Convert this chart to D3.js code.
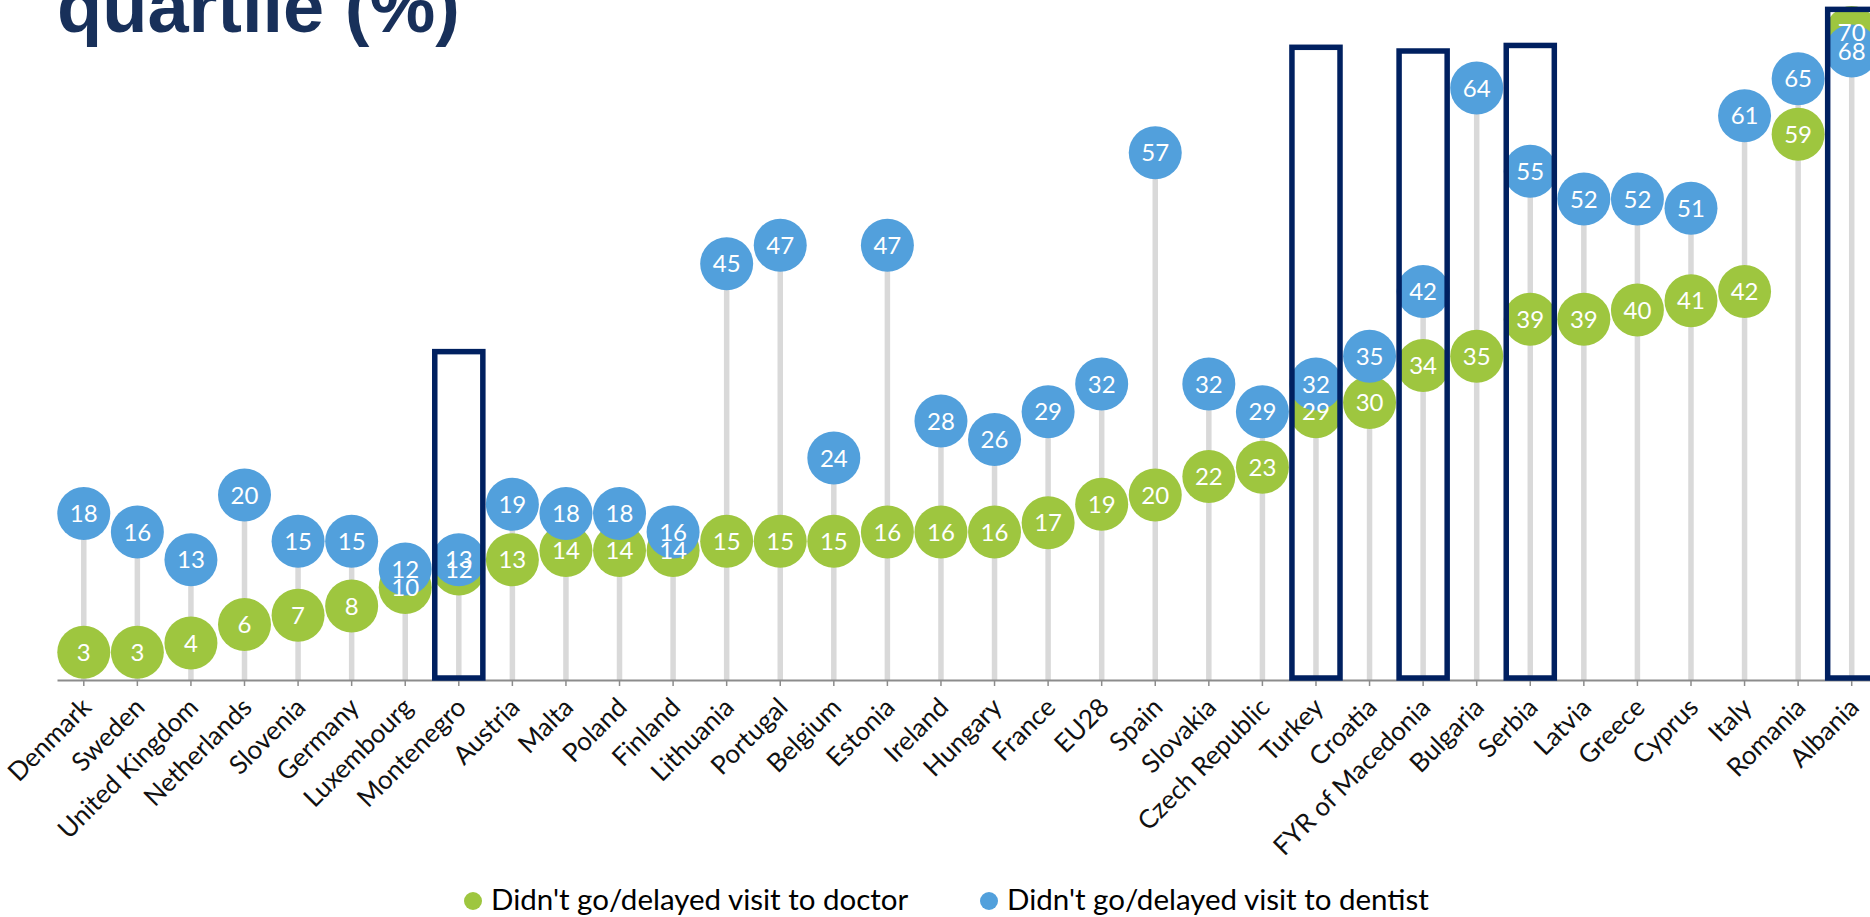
<!DOCTYPE html>
<html>
<head>
<meta charset="utf-8">
<script src="https://cdn.jsdelivr.net/npm/d3@7"></script>
<style>
  body { margin: 0; background: #fff; }
  svg { display: block; }
</style>
</head>
<body>
<svg id="chart" width="1870" height="917"></svg>
<script>
// ===== data =====
const countries = [
  "Denmark", "Sweden", "United Kingdom", "Netherlands", "Slovenia", "Germany",
  "Luxembourg", "Montenegro", "Austria", "Malta", "Poland", "Finland",
  "Lithuania", "Portugal", "Belgium", "Estonia", "Ireland", "Hungary",
  "France", "EU28", "Spain", "Slovakia", "Czech Republic", "Turkey",
  "Croatia", "FYR of Macedonia", "Bulgaria", "Serbia", "Latvia", "Greece",
  "Cyprus", "Italy", "Romania", "Albania"
];
const doctor = [
  3, 3, 4, 6, 7, 8, 10, 12, 13, 14, 14, 14, 15, 15, 15, 16, 16, 16,
  17, 19, 20, 22, 23, 29, 30, 34, 35, 39, 39, 40, 41, 42, 59, 70
];
const dentist = [
  18, 16, 13, 20, 15, 15, 12, 13, 19, 18, 18, 16, 45, 47, 24, 47, 28, 26,
  29, 32, 57, 32, 29, 32, 35, 42, 64, 55, 52, 52, 51, 61, 65, 68
];
const seriesNames = ["Didn't go/delayed visit to doctor", "Didn't go/delayed visit to dentist"];
// highlighted countries and how high their frame reaches (in %)
const highlighted = ["Montenegro", "Turkey", "FYR of Macedonia", "Serbia", "Albania"];
const boxTops = [35.5, 68.4, 68, 68.6, 72.5];
const titleText = "quartile (%)";

const green = "#9ec63f", blue = "#52a0dc", navy = "#002060";
const font = "Lato, 'Open Sans', sans-serif";

const svg = d3.select("#chart");
svg.append("rect").attr("width", 1870).attr("height", 917).attr("fill", "#fff");

// title (cut at the top like in the slide)
svg.append("text")
  .attr("x", 57).attr("y", 32)
  .style("font-family", "'Liberation Sans', Arial, sans-serif")
  .style("font-weight", "bold")
  .style("font-size", "74px")
  .attr("fill", "#18305a")
  .text(titleText);

const x = d3.scaleBand().domain(countries).range([57, 1878.5]).padding(0);
const y = d3.scaleLinear().domain([0, 70]).range([680, 32.5]);
const cx = (d) => x(d) + x.bandwidth() / 2;
const r = 26.5;

const data = countries.map((c, i) => ({ name: c, doc: doctor[i], den: dentist[i] }));

// stems
svg.append("g").selectAll("line").data(data).join("line")
  .attr("x1", (d) => cx(d.name)).attr("x2", (d) => cx(d.name))
  .attr("y1", y(0)).attr("y2", (d) => y(Math.max(d.doc, d.den)))
  .attr("stroke", "#d9d9d9").attr("stroke-width", 5.5);

// x axis
const xAxis = d3.axisBottom(x).tickSize(6).tickSizeOuter(0).tickFormat("");
const xAxisG = svg.append("g").attr("transform", `translate(0,${y(0)})`).call(xAxis);
xAxisG.select(".domain").attr("stroke", "#8c8c8c").attr("stroke-width", 2);
xAxisG.selectAll(".tick line").attr("stroke", "#8c8c8c").attr("stroke-width", 1.5);

// category labels, rotated
svg.append("g").selectAll("text").data(countries).join("text")
  .attr("transform", (d) => `translate(${cx(d) + 9},${709}) rotate(-45)`)
  .attr("text-anchor", "end")
  .style("font-family", font)
  .style("font-size", "26px")
  .attr("fill", "#111")
  .text((d) => d);

// dots
svg.append("g").selectAll("circle").data(data).join("circle")
  .attr("cx", (d) => cx(d.name)).attr("cy", (d) => y(d.doc)).attr("r", r)
  .attr("fill", green);
svg.append("g").selectAll("circle").data(data).join("circle")
  .attr("cx", (d) => cx(d.name)).attr("cy", (d) => y(d.den)).attr("r", r)
  .attr("fill", blue);

// value labels
const addLabels = (key) => {
  svg.append("g").selectAll("text").data(data).join("text")
    .attr("x", (d) => cx(d.name)).attr("y", (d) => y(d[key]))
    .attr("dy", "0.36em")
    .attr("text-anchor", "middle")
    .style("font-family", font)
    .style("font-size", "24px")
    .attr("fill", "#fff")
    .text((d) => d[key]);
};
addLabels("den");
addLabels("doc");

// frames around highlighted countries
svg.append("g").selectAll("rect").data(highlighted).join("rect")
  .attr("x", (d) => x(d) + 2.75)
  .attr("width", x.bandwidth() - 5.5)
  .attr("y", (d, i) => y(boxTops[i]))
  .attr("height", (d, i) => y(0) - 2 - y(boxTops[i]))
  .attr("fill", "none")
  .attr("stroke", navy)
  .attr("stroke-width", 5.5);

// legend
const legend = svg.append("g");
const legendX = [473, 989];
const legendColors = [green, blue];
seriesNames.forEach((s, i) => {
  legend.append("circle").attr("cx", legendX[i]).attr("cy", 901).attr("r", 9)
    .attr("fill", legendColors[i]);
  legend.append("text").attr("x", legendX[i] + 18).attr("y", 910)
    .style("font-family", font).style("font-size", "29.5px")
    .attr("fill", "#000").text(s);
});
</script>
</body>
</html>
